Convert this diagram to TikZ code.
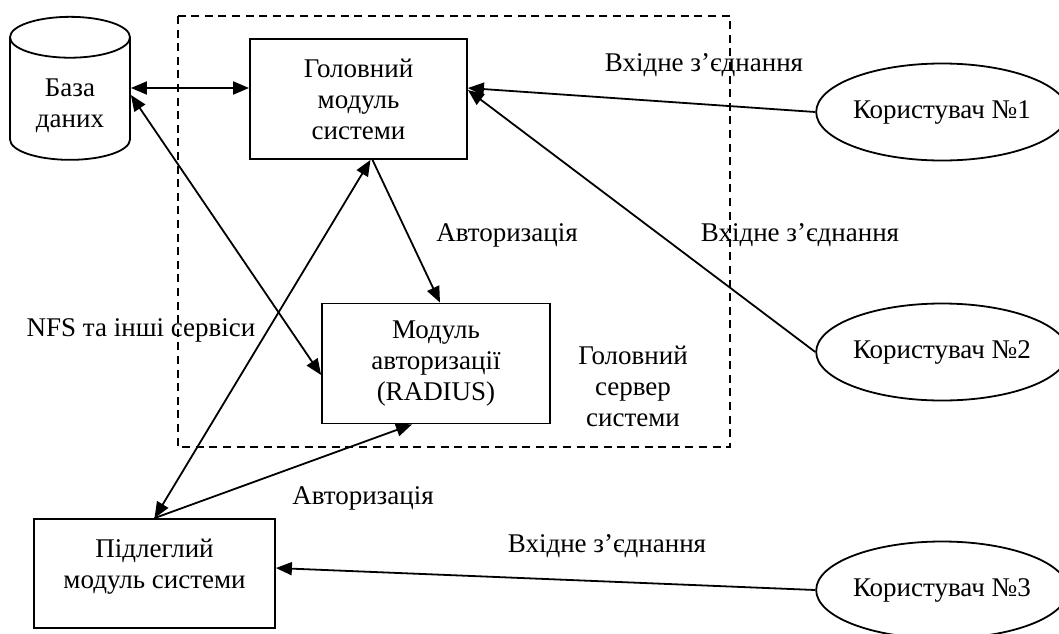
\documentclass[tikz,border=0pt]{standalone}
\usepackage{fontspec}
\setmainfont{Liberation Serif}
\usetikzlibrary{shapes.geometric,arrows.meta}
\begin{document}
\begin{tikzpicture}[x=0.5pt, y=-0.5pt, line width=0.9pt, >={Triangle[length=8pt,width=6.5pt]},
  every node/.style={font=\fontsize{13.5}{15.5}\selectfont, align=center},
  module/.style={draw, rectangle, inner sep=0pt},
  user/.style={draw, ellipse, minimum width=116.5pt, minimum height=48.5pt, inner sep=0pt},
  server/.style={draw, dash pattern=on 4pt off 2.8pt, line width=0.8pt}]
  \useasboundingbox (0,0) rectangle (1059,633);
  % main server boundary
  \draw[server] (178,16) rectangle (730,447);
  \node[draw, cylinder, shape border rotate=90, shape aspect=0.6, minimum width=60pt,
        minimum height=71.5pt, inner sep=0pt] (db) at (70,99) {\mbox{}\\[0pt]База\\даних};
  \node[module, minimum width=108.5pt, minimum height=60pt] (main) at (358.5,99) {Головний\\модуль\\системи};
  \node[module, minimum width=114pt, minimum height=60pt] (radius) at (436,363.5) {Модуль\\авторизації\\(RADIUS)};
  \node[module, minimum width=120.5pt, minimum height=54.5pt] (sub) at (154.5,573.5) {Підлеглий\\модуль системи\\[-5.5pt]\mbox{}};
  \node[user] (user1) at (942,112) {Користувач №1};
  \node[user] (user2) at (942,352) {Користувач №2};
  \node[user] (user3) at (942,590) {Користувач №3};
  % labels
  \node (in1) at (704,65) {Вхідне з’єднання};
  \node (in2) at (800,235) {Вхідне з’єднання};
  \node (in3) at (607,546) {Вхідне з’єднання};
  \node (auth1) at (507,235) {Авторизація};
  \node (auth2) at (363,498) {Авторизація};
  \node (nfs) at (141,330) {NFS та інші сервіси};
  \node (srvname) at (633,386) {Головний\\сервер\\системи};
  % connections
  \draw[<->] ([yshift=5.5pt]db.east) -- ([yshift=5.5pt]db.east -| main.west);
  \draw[<->] ([yshift=2pt]db.east) -- ([yshift=-5.75pt]radius.west);
  \draw[<->] ([xshift=6pt]main.south) -- (sub.north);
  \draw[->] ([xshift=7pt]main.south) -- ([xshift=2pt]radius.north);
  \draw[->] (sub.north) -- ([xshift=-12pt]radius.south);
  \draw[->] (user1.west) -- ([yshift=5.5pt]main.east);
  \draw[->] (user2.west) -- ([yshift=4.5pt]main.east);
  \draw[->] (user3.west) -- ([yshift=2.75pt]sub.east);
\end{tikzpicture}
\end{document}
